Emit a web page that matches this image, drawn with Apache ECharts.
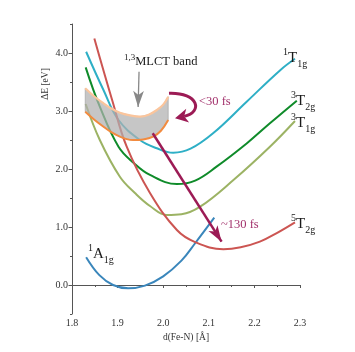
<!DOCTYPE html>
<html>
<head>
<meta charset="utf-8">
<script src="https://cdn.jsdelivr.net/npm/echarts@6/dist/echarts.min.js"></script>
<style>
  html, body { margin: 0; padding: 0; background: #fff; }
  #chart { width: 355px; height: 352px; }
</style>
</head>
<body>
<div id="chart"></div>
<script>
// potential energy curves, [d(Fe-N), dE]
const a1g = [[1.831, 0.48], [1.860, 0.17], [1.890, 0.0], [1.923, -0.057], [1.960, -0.01], [2.000, 0.15], [2.040, 0.42], [2.070, 0.72], [2.112, 1.16]]
const t2g5 = [[1.849, 4.25], [1.888, 3.19], [1.920, 2.384], [1.971, 1.586], [2.030, 0.948], [2.070, 0.74], [2.132, 0.616], [2.170, 0.65], [2.212, 0.747], [2.250, 0.90], [2.289, 1.081]]
const t1g1 = [[1.831, 4.022], [1.869, 3.362], [1.902, 2.845], [1.949, 2.500], [1.986, 2.357], [2.022, 2.281], [2.060, 2.35], [2.110, 2.62], [2.183, 3.16], [2.256, 3.70], [2.289, 3.90]]
const t2g3 = [[1.830, 3.753], [1.861, 3.074], [1.902, 2.384], [1.936, 2.10], [1.971, 1.897], [2.030, 1.741], [2.070, 1.80], [2.117, 2.040], [2.183, 2.44], [2.234, 2.788], [2.293, 3.178]]
const t1g3 = [[1.830, 3.12], [1.861, 2.50], [1.905, 1.867], [1.938, 1.586], [1.971, 1.362], [2.008, 1.207], [2.040, 1.22], [2.081, 1.35], [2.154, 1.810], [2.234, 2.384], [2.289, 2.828]]
// MLCT band edges
const bandUpper = [[1.829, 3.391], [1.849, 3.25], [1.869, 3.133], [1.887, 3.04], [1.905, 2.971], [1.927, 2.925], [1.949, 2.902], [1.968, 2.935], [1.986, 3.017], [2.000, 3.11], [2.011, 3.247]]
const bandLower = [[1.829, 2.988], [1.849, 2.85], [1.869, 2.729], [1.887, 2.63], [1.905, 2.557], [1.920, 2.515], [1.934, 2.50], [1.956, 2.51], [1.978, 2.557], [1.995, 2.66], [2.011, 2.845]]
// annotation arrows, [start, end]
const mlctArrow = [[1.947, 3.678], [1.945, 3.07]]
const fastArrow = [[2.0127, 3.305], [2.0259, 2.874]]
const slowArrow = [[1.977, 2.616], [2.128, 0.747]]

const yTickLabels = [0, 1, 2, 3, 4]

const serif = 'Liberation Serif'
const arrowColor = '#9c1b55'

function curve (name, data, color) {
  return {
    name: name,
    type: 'line',
    data: data,
    smooth: 0.4,
    showSymbol: false,
    silent: true,
    lineStyle: { color: color, width: 2 },
    z: 2
  }
}

function stateLabel (x, y, sup, main, sub) {
  return {
    type: 'text',
    x: x,
    y: y,
    z: 100,
    style: {
      text: '{s|' + sup + '}{m|' + main + '}{b|' + sub + '}',
      verticalAlign: 'middle',
      fill: '#1a1a1a',
      rich: {
        s: { fontFamily: serif, fontSize: 10, lineHeight: 8, verticalAlign: 'top', fill: '#1a1a1a' },
        m: { fontFamily: serif, fontSize: 15, lineHeight: 22, verticalAlign: 'middle', fill: '#1a1a1a' },
        b: { fontFamily: serif, fontSize: 10, lineHeight: 17, verticalAlign: 'bottom', fill: '#1a1a1a' }
      }
    }
  }
}

const chart = echarts.init(document.getElementById('chart'))
chart.setOption({
  animation: false,
  backgroundColor: '#fff',
  grid: { left: 72, right: 55, top: 24, bottom: 38 },
  xAxis: {
    type: 'value',
    min: 1.8,
    max: 2.3,
    interval: 0.1,
    name: 'd(Fe-N) [Å]',
    nameLocation: 'middle',
    nameGap: 18,
    nameTextStyle: { fontFamily: serif, fontSize: 9.5, color: '#333' },
    axisLine: { lineStyle: { color: '#555', width: 1 } },
    axisTick: { length: 3, lineStyle: { color: '#555' } },
    minorTick: { show: true, splitNumber: 2, length: 2, lineStyle: { color: '#555' } },
    splitLine: { show: false },
    axisLabel: { fontFamily: serif, fontSize: 10, color: '#333', margin: 4, formatter: v => v.toFixed(1) }
  },
  yAxis: [
    {
      type: 'value',
      min: -0.5,
      max: 4.5,
      interval: 0.5,
      axisLine: { show: true, lineStyle: { color: '#555', width: 1 } },
      axisTick: { length: 2, lineStyle: { color: '#555' } },
      splitLine: { show: false },
      axisLabel: {
        fontFamily: serif,
        fontSize: 10,
        color: '#333',
        margin: 4,
        formatter: v => (yTickLabels.indexOf(Math.round(v * 10) / 10) >= 0 ? v.toFixed(1) : '')
      }
    },
    {
      type: 'value',
      min: -0.5,
      max: 4.5,
      interval: 0.5,
      position: 'left',
      axisLine: { show: false },
      axisTick: { show: true, length: 3.5, customValues: yTickLabels, lineStyle: { color: '#555' } },
      axisLabel: { show: false },
      splitLine: { show: false }
    }
  ],
  series: [
    curve('1A1g', a1g, '#3a86bb'),
    curve('3T1g', t1g3, '#9cb364'),
    curve('3T2g', t2g3, '#0f8b2a'),
    curve('1T1g', t1g1, '#2eafc6'),
    Object.assign(curve('5T2g', t2g5, '#cc5552'), {
      markLine: {
        silent: true,
        symbol: ['none', 'arrow'],
        label: { show: false },
        emphasis: { disabled: true },
        z: 10,
        data: [
          [{ coord: mlctArrow[0], symbolSize: 8, lineStyle: { color: '#888', width: 1.3, type: 'solid' } }, { coord: mlctArrow[1] }],
          [{ coord: slowArrow[0], symbolSize: 13, lineStyle: { color: arrowColor, width: 2.5, type: 'solid' } }, { coord: slowArrow[1] }]
        ]
      }
    }),
    {
      // grey fill between the two band edges
      name: 'bandFill',
      type: 'custom',
      silent: true,
      z: 3,
      data: [[1.9, 2.8]],
      renderItem: function (params, api) {
        const pts = bandUpper.map(p => api.coord(p))
          .concat(bandLower.slice().reverse().map(p => api.coord(p)))
        return {
          type: 'polygon',
          shape: { points: pts },
          style: { fill: 'rgba(176,176,176,0.72)', stroke: 'rgba(160,160,160,0.8)', lineWidth: 0.8 }
        }
      }
    },
    {
      name: 'bandLower',
      type: 'line',
      data: bandLower,
      smooth: 0.4,
      showSymbol: false,
      silent: true,
      lineStyle: { color: '#f28b3f', width: 2 },
      z: 4
    },
    {
      name: 'bandUpper',
      type: 'line',
      data: bandUpper,
      smooth: 0.4,
      showSymbol: false,
      silent: true,
      lineStyle: { color: '#fbc59c', width: 2.2 },
      z: 4
    },
    {
      // curved <30 fs arrow
      name: 'fastArrow',
      type: 'custom',
      silent: true,
      z: 10,
      clip: false,
      data: [[2.0, 3.0]],
      renderItem: function (params, api) {
        const p1 = api.coord(fastArrow[0])
        const p2 = api.coord(fastArrow[1])
        const cp1 = [p1[0] + 30, p1[1] - 1]
        const cp2 = [p2[0] + 28, p2[1] - 6]
        const dx = p2[0] - cp2[0]
        const dy = p2[1] - cp2[1]
        const len = Math.sqrt(dx * dx + dy * dy)
        const ux = dx / len
        const uy = dy / len
        const L = 13
        const W = 7
        const bx = p2[0] - ux * L
        const by = p2[1] - uy * L
        const nx = p2[0] - ux * L * 0.72
        const ny = p2[1] - uy * L * 0.72
        return {
          type: 'group',
          children: [
            {
              type: 'bezierCurve',
              shape: { x1: p1[0], y1: p1[1], x2: nx, y2: ny, cpx1: cp1[0], cpy1: cp1[1], cpx2: cp2[0], cpy2: cp2[1] },
              style: { stroke: arrowColor, lineWidth: 3, fill: null }
            },
            {
              type: 'polygon',
              shape: { points: [p2, [bx - uy * W, by + ux * W], [nx, ny], [bx + uy * W, by - ux * W]] },
              style: { fill: arrowColor }
            }
          ]
        }
      }
    }
  ],
  graphic: [
    stateLabel(283, 58, '1', 'T', '1g'),
    stateLabel(291, 101, '3', 'T', '2g'),
    stateLabel(291, 123, '3', 'T', '1g'),
    stateLabel(291, 224, '5', 'T', '2g'),
    stateLabel(88, 254, '1', 'A', '1g'),
    {
      type: 'text',
      x: 124,
      y: 62,
      z: 100,
      style: {
        text: '{s|1,3}{m|MLCT band}',
        verticalAlign: 'middle',
        rich: {
          s: { fontFamily: serif, fontSize: 9, lineHeight: 9, verticalAlign: 'top', fill: '#1a1a1a' },
          m: { fontFamily: serif, fontSize: 12.5, lineHeight: 18, verticalAlign: 'middle', fill: '#1a1a1a' }
        }
      }
    },
    {
      type: 'text',
      x: 199,
      y: 102,
      z: 100,
      style: { text: '<30 fs', fontFamily: serif, fontSize: 12.5, fill: '#a2306b', verticalAlign: 'middle' }
    },
    {
      type: 'text',
      x: 221,
      y: 225,
      z: 100,
      style: { text: '~130 fs', fontFamily: serif, fontSize: 12.5, fill: '#a2306b', verticalAlign: 'middle' }
    },
    {
      type: 'text',
      x: 45,
      y: 84,
      rotation: Math.PI / 2,
      z: 100,
      style: { text: 'ΔE [eV]', fontFamily: serif, fontSize: 9.5, fill: '#333', align: 'center', verticalAlign: 'middle' }
    }
  ]
})
</script>
</body>
</html>
